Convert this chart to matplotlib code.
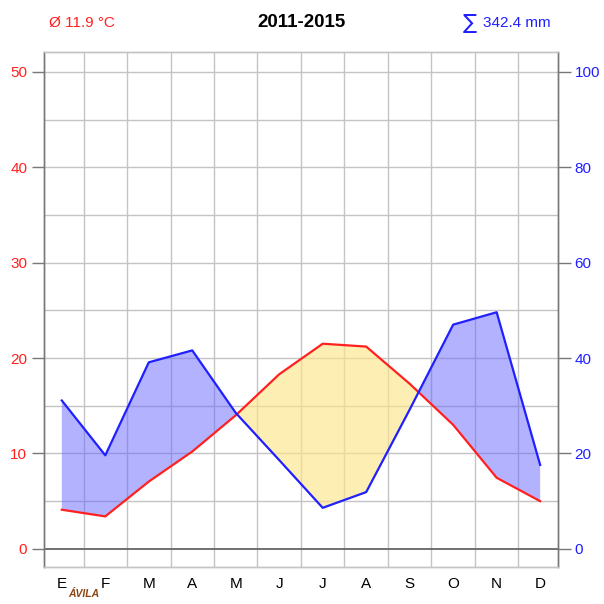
import numpy as np
import matplotlib.pyplot as plt

plt.rcParams['font.family'] = ['Liberation Sans', 'DejaVu Sans']

months = ['E', 'F', 'M', 'A', 'M', 'J', 'J', 'A', 'S', 'O', 'N', 'D']
temp = [4.1, 3.4, 7.05, 10.2, 14.0, 18.3, 21.5, 21.2, 17.3, 13.0, 7.45, 5.0]
precip = [31.1, 19.6, 39.1, 41.6, 28.5, 18.6, 8.6, 11.9, 29.2, 47.0, 49.6, 17.6]
period = '2011-2015'
station = 'ÁVILA'

x = np.arange(len(months))
t = np.array(temp)
p = np.array(precip) / 2.0  # precipitation on temperature scale (1 °C = 2 mm)

fig = plt.figure(figsize=(6.04, 6.04), dpi=100)
ax = fig.add_axes([0.0728, 0.0613, 0.851, 0.853])

ax.set_xlim(-0.41, 11.41)
ax.set_ylim(-1.9, 52.1)

# grid
for gx in np.arange(0.5, 11, 1):
    ax.axvline(gx, color='#c4c4c4', lw=1.0, zorder=1)
for gy in range(5, 55, 5):
    ax.axhline(gy, color='#c4c4c4', lw=1.0, zorder=1)
ax.axhline(0, color='#666666', lw=1.3, zorder=4)

# fills
ax.fill_between(x, t, p, where=p >= t, interpolate=True, color='#6666ff', alpha=0.5,
                lw=0, zorder=2)
ax.fill_between(x, t, p, where=t >= p, interpolate=True, color='#fde58a', alpha=0.65,
                lw=0, zorder=2)

ax.plot(x, t, color='#ff2020', lw=1.6, zorder=5)
ax.plot(x, p, color='#2020ff', lw=1.6, zorder=5)

ax.set_xticks(x)
ax.set_xticklabels(months, fontsize=11)
ax.tick_params(axis='x', length=0, pad=7)

ax.set_yticks(range(0, 51, 10))
ax.tick_params(axis='y', colors='#777777', labelcolor='#ff2020', labelsize=11,
               length=9, width=1, pad=3)

ax2 = ax.twinx()
ax2.set_ylim(-3.8, 104.2)
ax2.set_yticks(range(0, 101, 20))
ax2.tick_params(axis='y', colors='#777777', labelcolor='#2020ff', labelsize=11,
                length=9, width=1, pad=3)

for a in (ax, ax2):
    for s in a.spines.values():
        s.set_color('#777777')
        s.set_linewidth(1.0)
    a.spines['top'].set_color('#c4c4c4')
    a.spines['bottom'].set_color('#c4c4c4')

fig.text(0.5, 0.962, period, ha='center', va='center', fontsize=13.5, fontweight='bold')
fig.text(0.081, 0.962, f'Ø {np.mean(temp):.1f} °C',
         ha='left', va='center', fontsize=11, color='#ff2020')
fig.text(0.912, 0.962, f'{sum(precip):.1f} mm', ha='right', va='center',
         fontsize=11, color='#2020ff')
fig.text(0.789, 0.962, '∑', ha='right', va='center', fontsize=15,
         color='#2020ff', family='DejaVu Sans')
fig.text(0.139, 0.008, station, ha='center', va='bottom', fontsize=7.5,
         fontweight='bold', fontstyle='italic', color='#8b4513')

fig.savefig('out.png', dpi=100)
